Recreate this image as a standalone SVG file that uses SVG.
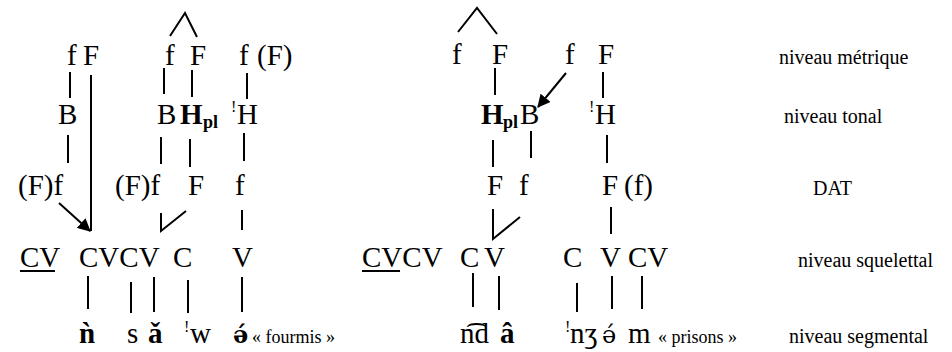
<svg xmlns="http://www.w3.org/2000/svg" width="952" height="352" viewBox="0 0 952 352">
<defs>
<marker id="ah" viewBox="0 0 12 12" refX="11" refY="6" markerWidth="13" markerHeight="13" markerUnits="userSpaceOnUse" orient="auto">
<path d="M0,0 L12,6 L0,12 Z" fill="#000"/>
</marker>
<style>
text{font-family:"Liberation Serif","Times New Roman",serif;font-size:29px;fill:#000}
.b{font-weight:bold}
.sub{font-size:18px;font-weight:bold}
.sup{font-size:16px}
.lab{font-size:20px}
.gl{font-size:18px}
.dj{font-family:"DejaVu Serif",serif;font-size:24px}
.ln{stroke:#000;stroke-width:2;fill:none}
.ar{stroke:#000;stroke-width:2;fill:none;marker-end:url(#ah)}
</style>
</defs>
<rect width="952" height="352" fill="#fff"/>

<g id="connectors">
<polyline class="ln" points="170,36 185,13 197,37"/>
<line class="ln" x1="70" y1="72" x2="70" y2="98"/>
<line class="ln" x1="91" y1="75" x2="91" y2="231"/>
<line class="ln" x1="164" y1="68" x2="164" y2="94"/>
<line class="ln" x1="192" y1="70" x2="192" y2="97"/>
<line class="ln" x1="247" y1="73" x2="247" y2="99"/>
<line class="ln" x1="68" y1="135" x2="68" y2="163"/>
<line class="ln" x1="161" y1="137" x2="161" y2="164"/>
<line class="ln" x1="190" y1="139" x2="190" y2="167"/>
<line class="ln" x1="244" y1="133" x2="244" y2="161"/>
<line class="ar" x1="59" y1="203" x2="90" y2="231"/>
<polyline class="ln" points="161,213 161,231 186,211"/>
<line class="ln" x1="242" y1="210" x2="242" y2="230"/>
<line class="ln" x1="88" y1="276" x2="88" y2="309"/>
<line class="ln" x1="131" y1="282" x2="131" y2="313"/>
<line class="ln" x1="154" y1="277" x2="154" y2="312"/>
<line class="ln" x1="188" y1="280" x2="188" y2="313"/>
<line class="ln" x1="242" y1="277" x2="242" y2="312"/>
<polyline class="ln" points="458,32 477,8 497,34"/>
<line class="ln" x1="495" y1="68" x2="495" y2="95"/>
<line class="ar" x1="566" y1="73" x2="538" y2="107"/>
<line class="ln" x1="603" y1="72" x2="603" y2="98"/>
<line class="ln" x1="493" y1="140" x2="493" y2="167"/>
<line class="ln" x1="531" y1="131" x2="531" y2="158"/>
<line class="ln" x1="607" y1="135" x2="607" y2="163"/>
<polyline class="ln" points="493,209 493,239 520,217"/>
<line class="ln" x1="611" y1="207" x2="611" y2="234"/>
<line class="ln" x1="473" y1="273" x2="473" y2="307"/>
<line class="ln" x1="499" y1="276" x2="499" y2="310"/>
<line class="ln" x1="577" y1="283" x2="577" y2="312"/>
<line class="ln" x1="612" y1="276" x2="612" y2="309"/>
<line class="ln" x1="642" y1="276" x2="642" y2="309"/>
</g>

<g id="fourmis">
<g id="l-metric">
<text x="67" y="65">f</text><text x="83" y="65">F</text>
<text x="165" y="65">f</text><text x="190" y="65">F</text>
<text x="239" y="65">f</text><text x="257" y="65">(F)</text>
</g>
<g id="l-tonal">
<text x="58" y="124">B</text>
<text x="157" y="124">B</text><text class="b" x="180" y="124">H</text><text class="sub" x="203" y="128">pl</text>
<text class="sup" x="231" y="112">!</text><text x="237" y="124">H</text>
</g>
<g id="l-dat">
<text x="18" y="195">(F)f</text>
<text x="115" y="195">(F)f</text>
<text x="188" y="195">F</text>
<text x="235" y="195">f</text>
</g>
<g id="l-skel">
<text x="20" y="267">CV</text>
<line class="ln" x1="20" y1="271" x2="55" y2="271" stroke-width="1.5"/>
<text x="79" y="267">CVCV</text>
<text x="173" y="267">C</text>
<text x="232" y="267">V</text>
</g>
<g id="l-seg">
<text class="b" x="79" y="343">ǹ</text>
<text x="127" y="343">s</text>
<text class="b" x="148" y="343">ǎ</text>
<text class="sup" x="184" y="332">!</text><text x="190" y="343">w</text>
<text class="b dj" x="233" y="343">ə́</text>
<text class="gl" x="252" y="343">« fourmis »</text>
</g>
</g>

<g id="prisons">
<g id="r-metric">
<text x="452" y="64">f</text><text x="492" y="64">F</text>
<text x="565" y="64">f</text><text x="598" y="64">F</text>
</g>
<g id="r-tonal">
<text class="b" x="481" y="124">H</text><text class="sub" x="503" y="128">pl</text><text x="520" y="124">B</text>
<text class="sup" x="589" y="112">!</text><text x="595" y="124">H</text>
</g>
<g id="r-dat">
<text x="487" y="195">F</text><text x="519" y="195">f</text>
<text x="602" y="195">F</text><text x="624" y="195">(f)</text>
</g>
<g id="r-skel">
<text x="362" y="267">CVCV</text>
<line class="ln" x1="362" y1="271" x2="400" y2="271" stroke-width="1.5"/>
<text x="460" y="267">C</text><text x="484" y="267">V</text>
<text x="563" y="267">C</text><text x="600" y="267">V</text><text x="628" y="267">CV</text>
</g>
<g id="r-seg">
<text x="460" y="343">n͡d</text>
<text class="b" x="500" y="343">â</text>
<text class="sup" x="565" y="332">!</text><text x="570" y="343">nʒ</text>
<text class="dj" x="602" y="343">ə́</text>
<text x="628" y="343">m</text>
<text class="gl" x="658" y="343">« prisons »</text>
</g>
</g>

<g id="levels">
<text class="lab" x="779" y="64">niveau métrique</text>
<text class="lab" x="784" y="123">niveau tonal</text>
<text class="lab" x="813" y="195">DAT</text>
<text class="lab" x="798" y="267">niveau squelettal</text>
<text class="lab" x="789" y="343">niveau segmental</text>
</g>
</svg>
